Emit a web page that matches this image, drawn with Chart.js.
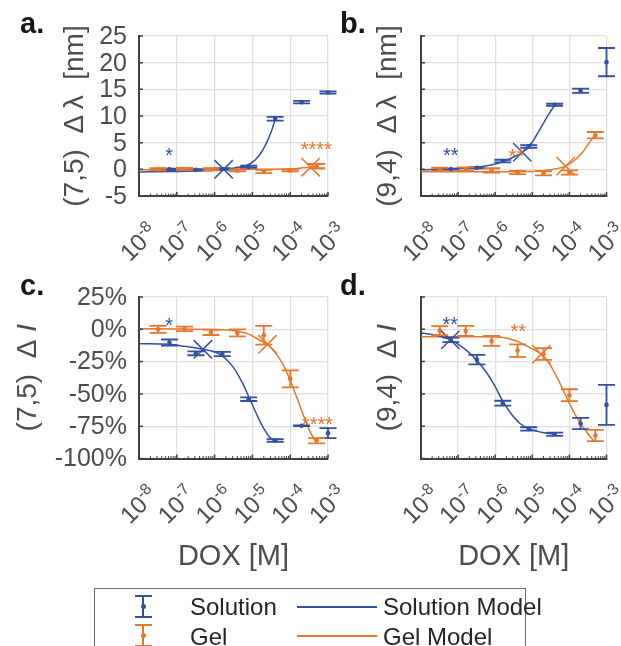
<!DOCTYPE html>
<html>
<head>
<meta charset="utf-8">
<script src="https://cdn.jsdelivr.net/npm/chart.js@4.4.0/dist/chart.umd.min.js"></script>
<style>
  html, body { margin: 0; padding: 0; background: #fff; }
  #page { position: relative; width: 621px; height: 646px; overflow: hidden;
    font-family: "Liberation Sans", Arial, Helvetica, sans-serif; }
  #page canvas { position: absolute; left: 0; top: 0; }
  .lg-box { position: absolute; left: 94px; top: 588px; width: 432px; height: 80px;
    border: 1px solid #6b6b6b; box-sizing: border-box; }
  .lg-txt { position: absolute; font-size: 24px; line-height: 28px; color: #262626; white-space: nowrap; }
  .lg-bar { position: absolute; }
  .lg-dot { position: absolute; width: 5px; height: 5px; border-radius: 50%; }
</style>
</head>
<body>
<div id="page">
  <canvas id="pa" width="621" height="646"></canvas>
  <canvas id="pb" width="621" height="646"></canvas>
  <canvas id="pc" width="621" height="646"></canvas>
  <canvas id="pd" width="621" height="646"></canvas>

  <div class="lg-box"></div>
  <!-- Solution: error bar icon -->
  <div class="lg-bar" style="left:142.3px;top:596px;width:2px;height:21px;background:#3350a3"></div>
  <div class="lg-bar" style="left:135px;top:595px;width:17px;height:2px;background:#3350a3"></div>
  <div class="lg-bar" style="left:135px;top:616px;width:17px;height:2px;background:#3350a3"></div>
  <div class="lg-dot" style="left:140.8px;top:603.5px;background:#3350a3"></div>
  <div class="lg-txt" style="left:190px;top:592.5px">Solution</div>
  <div class="lg-bar" style="left:297px;top:605.8px;width:80px;height:1.8px;background:#3350a3"></div>
  <div class="lg-txt" style="left:383px;top:592.5px">Solution Model</div>
  <!-- Gel: error bar icon -->
  <div class="lg-bar" style="left:142.3px;top:625px;width:2px;height:21px;background:#e8762b"></div>
  <div class="lg-bar" style="left:135px;top:624px;width:17px;height:2px;background:#e8762b"></div>
  <div class="lg-bar" style="left:135px;top:645px;width:17px;height:2px;background:#e8762b"></div>
  <div class="lg-dot" style="left:140.8px;top:633.2px;background:#e8762b"></div>
  <div class="lg-txt" style="left:190px;top:622.5px">Gel</div>
  <div class="lg-bar" style="left:297px;top:634.8px;width:80px;height:1.8px;background:#e8762b"></div>
  <div class="lg-txt" style="left:383px;top:622.5px">Gel Model</div>
</div>
<script>
// DOX dose series (M); solution and gel were run on staggered dilutions
const SOL_DOSE = [6.4e-8, 3.2e-7, 1.6e-6, 8e-6, 4e-5, 2e-4, 1e-3];
const GEL_DOSE = [3.2e-8, 1.6e-7, 8e-7, 4e-6, 2e-5, 1e-4, 5e-4];
const DECADES = [-8, -7, -6, -5, -4, -3];
const SHIFT_TICKS = [-5, 0, 5, 10, 15, 20, 25];
const INT_TICKS = [-100, -75, -50, -25, 0, 25];

// a. (7,5) wavelength shift [nm]
const A_SOL = [0, -0.1, 0.05, 0.5, 9.5, 12.6, 14.4];
const A_SOL_ERR = [0.15, 0.15, 0.15, 0.2, 0.35, 0.25, 0.2];
const A_GEL = [0, 0.05, 0, -0.2, -0.4, -0.2, 0.6];
const A_GEL_ERR = [0.2, 0.2, 0.2, 0.2, 0.3, 0.2, 0.4];
const A_SOL_FIT_E = [-8, -7, -6.5, -6, -5.76, -5.42, -5.07, -4.81, -4.63, -4.5, -4.39];
const A_SOL_FIT = [-0.5, -0.4, -0.3, -0.15, 0, 0.35, 1.0, 2.7, 4.9, 7.1, 9.5];
const A_GEL_FIT_E = [-8, -6, -5, -4, -3.7, -3.46, -3.3];
const A_GEL_FIT = [-0.1, -0.05, 0, 0.1, 0.25, 0.4, 0.6];
const A_CROSS_E = [-5.76, -3.46];
const A_CROSS = [0, 0.4];
const A_STAR_TXT = ["*", "****"];
const A_STAR_E = [-7.2, -3.31];
const A_STAR_V = [3.3, 4.4];

// b. (9,4) wavelength shift [nm]
const B_SOL = [0.05, 0.3, 1.55, 4.3, 12.1, 14.75, 20.1];
const B_SOL_ERR = [0.1, 0.1, 0.25, 0.25, 0.2, 0.4, 2.65];
const B_GEL = [0, 0.05, -0.2, -0.6, -0.75, -0.6, 6.4];
const B_GEL_ERR = [0.3, 0.3, 0.4, 0.3, 0.4, 0.4, 0.6];
const B_SOL_FIT_E = [-8, -7.19, -6.49, -6.05, -5.8, -5.45, -5.27, -5.08, -4.9, -4.73, -4.55, -4.39];
const B_SOL_FIT = [-0.1, 0.1, 0.4, 0.9, 1.4, 2.5, 3.2, 4.3, 6.25, 8.3, 10.4, 12.1];
const B_GEL_FIT_E = [-8, -6, -5, -4.55, -4.1, -3.85, -3.67, -3.5, -3.32];
const B_GEL_FIT = [-0.45, -0.45, -0.4, -0.1, 0.6, 1.75, 3.0, 4.6, 6.4];
const B_CROSS_E = [-5.27, -4.1];
const B_CROSS = [3.2, 0.6];
const B_STAR_TXT = ["**", "**"];
const B_STAR_E = [-7.2, -5.43];
const B_STAR_V = [3.25, 3.0];

// c. (7,5) intensity change [%]
const C_SOL = [-10.3, -18.6, -19.1, -54.1, -86.1, -74.7, -80.4];
const C_SOL_ERR = [2.4, 1.5, 1.7, 1.4, 1.0, 0.3, 3.9];
const C_GEL = [0, 0.3, -2.3, -2.8, -4.6, -38.4, -86.3];
const C_GEL_ERR = [2.7, 1.7, 2.1, 2.7, 7.3, 6.6, 2.0];
const C_SOL_FIT_E = [-8, -7.19, -6.8, -6.31, -5.88, -5.52, -5.26, -5.08, -4.9, -4.73, -4.56, -4.42];
const C_SOL_FIT = [-11.1, -11.6, -13.2, -15.5, -19.1, -28.9, -41.7, -53.3, -65, -75.2, -83, -86.3];
const C_GEL_FIT_E = [-8, -7, -6, -5.42, -5.08, -4.82, -4.6, -4.38, -4.2, -4.03, -3.85, -3.67, -3.5, -3.33];
const C_GEL_FIT = [0.5, 0.3, -0.3, -1.3, -3.9, -8.2, -11.6, -18.6, -26.8, -37.4, -50.8, -65, -77.8, -86.8];
const C_CROSS_E = [-6.31, -4.6];
const C_CROSS = [-15.5, -11.6];
const C_STAR_TXT = ["*", "****"];
const C_STAR_E = [-7.2, -3.28];
const C_STAR_V = [5.4, -70.9];

// d. (9,4) intensity change [%]
const D_SOL = [-8.2, -23.5, -57.2, -77.1, -81.2, -72.9, -58.5];
const D_SOL_ERR = [1.8, 3.7, 1.9, 1.3, 1.3, 4.3, 15.5];
const D_GEL = [-1.0, -1.3, -9.0, -16.5, -19.1, -51.0, -82.2];
const D_GEL_ERR = [3.5, 3.9, 3.9, 4.9, 4.6, 4.6, 4.3];
const D_SOL_FIT_E = [-8, -7.54, -7.21, -6.84, -6.51, -6.22, -6.0, -5.82, -5.6, -5.34, -5.07, -4.72, -4.35];
const D_SOL_FIT = [-2.8, -4.9, -8.2, -14.7, -23.5, -34, -44.3, -54.5, -64.2, -72.7, -77.1, -79.9, -81.3];
const D_GEL_FIT_E = [-8, -6.5, -6, -5.78, -5.43, -5.07, -4.76, -4.545, -4.37, -4.19, -4.015, -3.84, -3.66, -3.49, -3.33];
const D_GEL_FIT = [-5.7, -5.8, -6, -6.4, -9, -14.2, -19.3, -26.3, -35.3, -45.6, -56.4, -66.2, -74.5, -81.2, -86.8];
const D_CROSS_E = [-7.21, -4.76];
const D_CROSS = [-8.2, -19.3];
const D_STAR_TXT = ["**", "**"];
const D_STAR_E = [-7.21, -5.38];
const D_STAR_V = [6.4, 1.3];

const BLUE = "#3350a3", ORANGE = "#e8762b";
const INK = "#4d4d4d", AXIS = "#404040", GRID = "#e0e0e0";
const FONT = '"Liberation Sans", Arial, Helvetica, sans-serif';
const W = 621, H = 646;

const exp10 = (e) => Math.pow(10, e);
const pairs = (xs, ys) => xs.map((x, i) => ({ x, y: ys[i] }));
const fitPairs = (es, ys) => es.map((e, i) => ({ x: exp10(e), y: ys[i] }));

const PANELS = [
  { id: "pa", letter: "a.", letterAt: [20, 33], area: [139, 36, 328, 196],
    yMin: -5, yMax: 25, yTicks: SHIFT_TICKS, unit: "", showY: true, xTitle: false,
    title: [["(7,5)  \u0394\u2009\u03bb  [nm]", false]], titleX: 74,
    sol: A_SOL, solErr: A_SOL_ERR, gel: A_GEL, gelErr: A_GEL_ERR,
    solFit: fitPairs(A_SOL_FIT_E, A_SOL_FIT), gelFit: fitPairs(A_GEL_FIT_E, A_GEL_FIT),
    crossE: A_CROSS_E, cross: A_CROSS, starTxt: A_STAR_TXT, starE: A_STAR_E, starV: A_STAR_V },
  { id: "pb", letter: "b.", letterAt: [340, 33], area: [421, 36, 610.5, 196],
    yMin: -5, yMax: 25, yTicks: SHIFT_TICKS, unit: "", showY: false, xTitle: false,
    title: [["(9,4)  \u0394\u2009\u03bb  [nm]", false]], titleX: 387.5,
    sol: B_SOL, solErr: B_SOL_ERR, gel: B_GEL, gelErr: B_GEL_ERR,
    solFit: fitPairs(B_SOL_FIT_E, B_SOL_FIT), gelFit: fitPairs(B_GEL_FIT_E, B_GEL_FIT),
    crossE: B_CROSS_E, cross: B_CROSS, starTxt: B_STAR_TXT, starE: B_STAR_E, starV: B_STAR_V },
  { id: "pc", letter: "c.", letterAt: [20, 295], area: [139, 297, 328, 458.5],
    yMin: -100, yMax: 25, yTicks: INT_TICKS, unit: "%", showY: true, xTitle: true,
    title: [["(7,5)  \u0394 ", false], ["I", true]], titleX: 27.5,
    sol: C_SOL, solErr: C_SOL_ERR, gel: C_GEL, gelErr: C_GEL_ERR,
    solFit: fitPairs(C_SOL_FIT_E, C_SOL_FIT), gelFit: fitPairs(C_GEL_FIT_E, C_GEL_FIT),
    crossE: C_CROSS_E, cross: C_CROSS, starTxt: C_STAR_TXT, starE: C_STAR_E, starV: C_STAR_V },
  { id: "pd", letter: "d.", letterAt: [340, 295], area: [421, 297, 610.5, 458.5],
    yMin: -100, yMax: 25, yTicks: INT_TICKS, unit: "%", showY: false, xTitle: true,
    title: [["(9,4)  \u0394 ", false], ["I", true]], titleX: 387.5,
    sol: D_SOL, solErr: D_SOL_ERR, gel: D_GEL, gelErr: D_GEL_ERR,
    solFit: fitPairs(D_SOL_FIT_E, D_SOL_FIT), gelFit: fitPairs(D_GEL_FIT_E, D_GEL_FIT),
    crossE: D_CROSS_E, cross: D_CROSS, starTxt: D_STAR_TXT, starE: D_STAR_E, starV: D_STAR_V },
];

// vertical error bars with caps, read from dataset.errs
const errorBars = {
  id: "errorBars",
  afterDatasetsDraw(chart) {
    const { ctx } = chart;
    const xs = chart.scales.x, ys = chart.scales.y;
    chart.data.datasets.forEach((ds) => {
      if (!ds.errs) return;
      ctx.save();
      ctx.strokeStyle = ds.backgroundColor;
      ctx.lineWidth = 1.8;
      ctx.beginPath();
      ds.data.forEach((p, i) => {
        const x = xs.getPixelForValue(p.x);
        const top = ys.getPixelForValue(p.y + ds.errs[i]);
        const bot = ys.getPixelForValue(p.y - ds.errs[i]);
        ctx.moveTo(x, top); ctx.lineTo(x, bot);
        ctx.moveTo(x - 8.5, top); ctx.lineTo(x + 8.5, top);
        ctx.moveTo(x - 8.5, bot); ctx.lineTo(x + 8.5, bot);
      });
      ctx.stroke();
      ctx.restore();
    });
  },
};

function centeredText(ctx, txt, x, y) {
  const m = ctx.measureText(txt);
  const dy = (m.actualBoundingBoxAscent - m.actualBoundingBoxDescent) / 2;
  ctx.fillText(txt, x - m.width / 2, y + dy);
}

// axis furniture drawn by hand: inward ticks, 10^n labels, titles, stars
function decor(p) {
  return {
    id: "decor",
    afterDraw(chart) {
      const { ctx, chartArea: ca } = chart;
      const xs = chart.scales.x, ys = chart.scales.y;
      ctx.save();

      ctx.strokeStyle = AXIS;
      ctx.lineWidth = 1.5;
      ctx.beginPath();
      p.yTicks.forEach((v) => {
        const y = ys.getPixelForValue(v);
        ctx.moveTo(ca.left, y); ctx.lineTo(ca.left + 4, y);
      });
      DECADES.forEach((e) => {
        const x = xs.getPixelForValue(exp10(e));
        ctx.moveTo(x, ca.bottom); ctx.lineTo(x, ca.bottom - 4);
      });
      ctx.stroke();
      ctx.lineWidth = 1;
      ctx.beginPath();
      DECADES.slice(0, -1).forEach((e) => {
        for (let k = 2; k <= 9; k++) {
          const x = xs.getPixelForValue(k * exp10(e));
          ctx.moveTo(x, ca.bottom); ctx.lineTo(x, ca.bottom - 2.5);
        }
      });
      ctx.stroke();

      ctx.fillStyle = INK;
      if (p.showY) {
        ctx.font = "25px " + FONT;
        ctx.textAlign = "right";
        ctx.textBaseline = "middle";
        p.yTicks.forEach((v) => {
          ctx.fillText(v + p.unit, ca.left - 12, ys.getPixelForValue(v) + 1);
        });
      }

      // rotated decade labels 10^n
      ctx.textAlign = "left";
      ctx.textBaseline = "alphabetic";
      DECADES.forEach((e) => {
        const x = xs.getPixelForValue(exp10(e));
        ctx.save();
        ctx.translate(x - 9, ca.bottom + 66.5);
        ctx.rotate(-Math.PI / 4);
        ctx.font = "24px " + FONT;
        ctx.fillText("10", 0, 0);
        const w = ctx.measureText("10").width;
        ctx.font = "16px " + FONT;
        ctx.fillText(String(e), w, -9);
        ctx.restore();
      });

      // y title, rotated, centred on the plot area
      ctx.save();
      ctx.translate(p.titleX, (ca.top + ca.bottom) / 2);
      ctx.rotate(-Math.PI / 2);
      ctx.textBaseline = "middle";
      const seg = p.title.map(([t, it]) => {
        ctx.font = (it ? "italic " : "") + "28px " + FONT;
        return [t, it, ctx.measureText(t).width];
      });
      let tx = -seg.reduce((s, q) => s + q[2], 0) / 2;
      seg.forEach(([t, it, w]) => {
        ctx.font = (it ? "italic " : "") + "28px " + FONT;
        ctx.fillText(t, tx, 1);
        tx += w;
      });
      ctx.restore();

      if (p.xTitle) {
        ctx.font = "29px " + FONT;
        ctx.textAlign = "center";
        ctx.fillText("DOX [M]", (ca.left + ca.right) / 2, 565);
        ctx.textAlign = "left";
      }

      ctx.fillStyle = "#161616";
      ctx.font = "bold 29px " + FONT;
      ctx.fillText(p.letter, p.letterAt[0], p.letterAt[1]);

      ctx.font = "20px " + FONT;
      p.starTxt.forEach((t, i) => {
        ctx.fillStyle = i === 0 ? BLUE : ORANGE;
        centeredText(ctx, t, xs.getPixelForValue(exp10(p.starE[i])), ys.getPixelForValue(p.starV[i]));
      });
      ctx.restore();
    },
  };
}

function gridFor() {
  return { color: GRID, lineWidth: 1.3, drawTicks: false };
}

function buildPanel(p) {
  const a = p.area;
  return new Chart(document.getElementById(p.id), {
    type: "scatter",
    data: {
      datasets: [
        { data: pairs(p.crossE.map(exp10), p.cross), pointStyle: "crossRot", pointRadius: 13,
          borderColor: [BLUE, ORANGE], borderWidth: 1.5, backgroundColor: "transparent", clip: false },
        { data: pairs(SOL_DOSE, p.sol), errs: p.solErr, pointRadius: 2.3, borderWidth: 0,
          backgroundColor: BLUE, clip: false },
        { data: pairs(GEL_DOSE, p.gel), errs: p.gelErr, pointRadius: 2.3, borderWidth: 0,
          backgroundColor: ORANGE, clip: false },
        { data: p.solFit, showLine: true, pointRadius: 0, borderColor: BLUE, borderWidth: 1.5,
          cubicInterpolationMode: "monotone", fill: false },
        { data: p.gelFit, showLine: true, pointRadius: 0, borderColor: ORANGE, borderWidth: 1.5,
          cubicInterpolationMode: "monotone", fill: false },
      ],
    },
    options: {
      responsive: false,
      animation: false,
      events: [],
      layout: { padding: { left: a[0], top: a[1], right: W - a[2], bottom: H - a[3] } },
      plugins: { legend: { display: false }, tooltip: { enabled: false } },
      scales: {
        x: {
          type: "logarithmic", min: 1e-8, max: 1e-3,
          afterBuildTicks: (s) => { s.ticks = DECADES.map((e) => ({ value: exp10(e) })); },
          afterFit: (s) => { s.height = 0; },
          ticks: { display: false },
          grid: gridFor(),
          border: { display: true, color: AXIS, width: 2 },
        },
        y: {
          min: p.yMin, max: p.yMax,
          afterBuildTicks: (s) => { s.ticks = p.yTicks.map((v) => ({ value: v })); },
          afterFit: (s) => { s.width = 0; },
          ticks: { display: false },
          grid: gridFor(),
          border: { display: true, color: AXIS, width: 2 },
        },
      },
    },
    plugins: [errorBars, decor(p)],
  });
}

PANELS.forEach(buildPanel);
</script>
</body>
</html>
